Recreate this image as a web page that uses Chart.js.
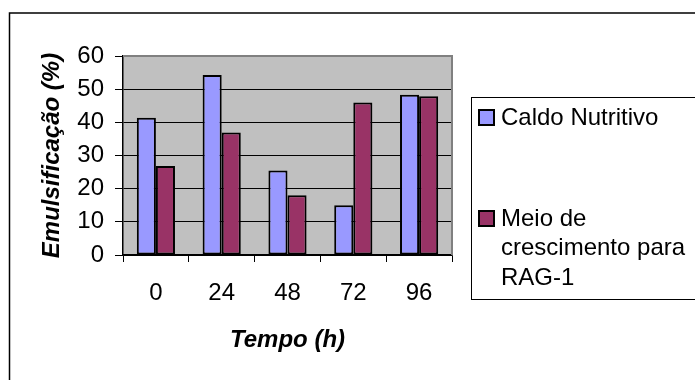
<!DOCTYPE html>
<html>
<head>
<meta charset="utf-8">
<script src="https://cdn.jsdelivr.net/npm/chart.js@4/dist/chart.umd.min.js"></script>
<style>
  html, body { margin: 0; padding: 0; background: #fff; }
  #wrap { width: 695px; height: 380px; }
</style>
</head>
<body>
<div id="wrap"><canvas id="c" width="695" height="380"></canvas></div>
<script>
// Emulsification (%) over time for two growth media
const hours = ['0', '24', '48', '72', '96'];
const seriesNames = ['Caldo Nutritivo', 'Meio de crescimento para RAG-1'];
const caldoNutritivo = [41.4, 54.3, 25.5, 15.0, 48.3];
const meioRag1 = [26.8, 36.9, 18.0, 46.0, 47.9];
const yTicks = [0, 10, 20, 30, 40, 50, 60];

const FONT = '"Liberation Sans", Arial, sans-serif';
Chart.defaults.font.family = FONT;
Chart.defaults.color = '#000';

function wrapText(ctx, text, maxWidth) {
  const words = text.split(' ');
  const lines = [];
  let cur = '';
  words.forEach(w => {
    const test = cur ? cur + ' ' + w : w;
    if (ctx.measureText(test).width > maxWidth && cur) {
      lines.push(cur);
      cur = w;
    } else {
      cur = test;
    }
  });
  if (cur) lines.push(cur);
  return lines;
}

// Grey plot background, plot frame, outer frame and side legend
const decorations = {
  id: 'decorations',
  beforeDraw(chart) {
    const { ctx, chartArea: a } = chart;
    ctx.save();
    ctx.fillStyle = '#fff';
    ctx.fillRect(0, 0, chart.width, chart.height);
    ctx.fillStyle = '#C0C0C0';
    ctx.fillRect(a.left, a.top, a.right - a.left, a.bottom - a.top);
    ctx.restore();
  },
  beforeDatasetsDraw(chart) {
    const { ctx, chartArea: a } = chart;
    ctx.save();
    ctx.strokeStyle = '#808080';
    ctx.lineWidth = 2;
    ctx.beginPath();
    ctx.moveTo(a.left, a.top);
    ctx.lineTo(a.right, a.top);
    ctx.lineTo(a.right, a.bottom);
    ctx.stroke();
    ctx.restore();
  },
  afterDraw(chart) {
    const { ctx } = chart;
    ctx.save();
    // outer frame
    ctx.strokeStyle = '#000';
    ctx.lineWidth = 1.5;
    ctx.strokeRect(9.5, 13, 800, 500);
    // legend box
    ctx.lineWidth = 1;
    ctx.strokeRect(471.5, 97.5, 400, 202);
    ctx.font = '24px ' + FONT;
    ctx.textBaseline = 'middle';
    ctx.textAlign = 'left';
    const rowY = [118, 219];
    chart.data.datasets.forEach((ds, i) => {
      const y0 = rowY[i];
      ctx.fillStyle = ds.backgroundColor;
      ctx.fillRect(479, y0 - 8, 15, 15);
      ctx.strokeStyle = '#000';
      ctx.lineWidth = 2;
      ctx.strokeRect(479, y0 - 8, 15, 15);
      ctx.fillStyle = '#000';
      wrapText(ctx, ds.label, 190).forEach((ln, j) => {
        ctx.fillText(ln, 501, y0 + j * 29.5);
      });
    });
    ctx.restore();
  }
};

new Chart(document.getElementById('c'), {
  type: 'bar',
  data: {
    labels: hours,
    datasets: [
      {
        label: seriesNames[0],
        data: caldoNutritivo,
        backgroundColor: '#9999FF',
        borderColor: '#000',
        borderWidth: 2,
        borderSkipped: false
      },
      {
        label: seriesNames[1],
        data: meioRag1,
        backgroundColor: '#993366',
        borderColor: '#000',
        borderWidth: 2,
        borderSkipped: false
      }
    ]
  },
  options: {
    responsive: false,
    animation: false,
    devicePixelRatio: 1,
    layout: { padding: { left: 10, top: 56, right: 243, bottom: 0 } },
    datasets: { bar: { categoryPercentage: 0.58, barPercentage: 1.0 } },
    plugins: { legend: { display: false }, tooltip: { enabled: false } },
    scales: {
      x: {
        afterFit: s => { s.height = 125; },
        grid: {
          drawOnChartArea: false,
          drawTicks: true,
          tickLength: 7,
          tickColor: '#000',
          offset: true
        },
        border: { display: true, color: '#000', width: 1.5 },
        ticks: { font: { size: 24 }, color: '#000', padding: 17, maxRotation: 0 },
        title: {
          display: true,
          text: 'Tempo (h)',
          color: '#000',
          font: { size: 24, weight: 'bold', style: 'italic' },
          padding: { top: 0, bottom: 25 }
        }
      },
      y: {
        min: 0,
        max: 60,
        afterFit: s => { s.width = 113; },
        afterBuildTicks: s => { s.ticks = yTicks.map(v => ({ value: v })); },
        grid: {
          color: c => (c.tick && c.tick.value === 60 ? '#808080' : '#000'),
          lineWidth: 1,
          tickColor: '#000',
          tickLength: 8
        },
        border: { display: true, color: '#000', width: 1.5 },
        ticks: { font: { size: 24 }, color: '#000', padding: 11 },
        title: {
          display: true,
          text: 'Emulsificação (%)',
          color: '#000',
          font: { size: 24, weight: 'bold', style: 'italic' },
          padding: { top: 28, bottom: 0 }
        }
      }
    }
  },
  plugins: [decorations]
});
</script>
</body>
</html>
